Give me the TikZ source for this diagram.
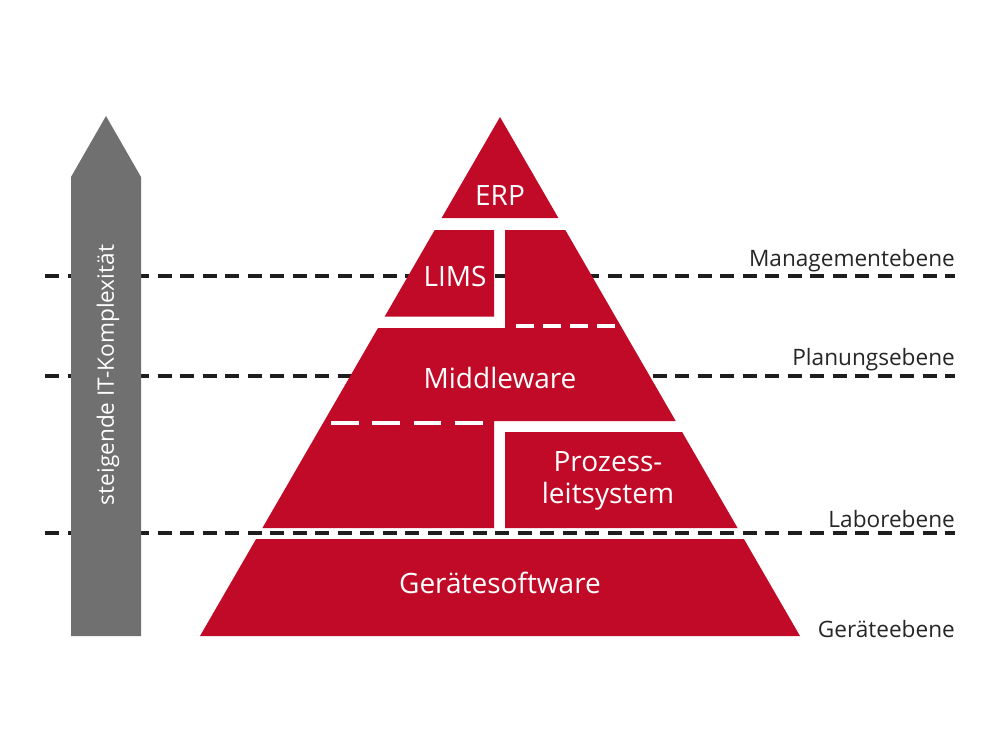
\documentclass[tikz,border=0pt]{standalone}
\usepackage{fontspec}
\setmainfont{Open Sans}
\definecolor{pyrred}{RGB}{192,10,39}
\definecolor{arrowgray}{RGB}{112,112,112}
\definecolor{linegray}{RGB}{30,30,30}
\tikzset{
  levelline/.style={draw=linegray,line width=3.3pt,dash pattern=on 14pt off 8.5pt},
  block/.style={fill=pyrred,draw=none},
  gapline/.style={draw=white,line width=4pt},
  blocklabel/.style={font=\fontsize{28}{32}\selectfont,text=white,align=center,inner sep=0pt},
  levellabel/.style={font=\fontsize{22.6}{26}\selectfont,text=black!85,anchor=base east,inner sep=0pt},
}

\begin{document}
\begin{tikzpicture}[x=1pt,y=-1pt]
\useasboundingbox[fill=white] (0,0) rectangle (1000,750);

% level lines
\draw[levelline] (45,276) -- (955,276);
\draw[levelline] (45,376) -- (955,376);
\draw[levelline] (45,533) -- (955,533);
\node[levellabel] (mgmt) at (955,266) {Managementebene};
\node[levellabel] (plan) at (955,365) {Planungsebene};
\node[levellabel] (labor) at (955,527) {Laborebene};
\node[levellabel] (geraet) at (955,637) {Geräteebene};

% arrow
\fill[arrowgray] (71,636) -- (71,177) -- (106,116) -- (141,177) -- (141,636) -- cycle;
\node[font=\fontsize{22.6}{26}\selectfont,text=white,rotate=90,anchor=center] (itk) at (108,375) {steigende IT-Komplexität};

% pyramid
\fill[block] (500,117) -- (558.4,218) -- (441.6,218) -- cycle;
\fill[block] (434.7,230) -- (494,230) -- (494,316.7) -- (384.6,316.7) -- cycle;
\fill[block] (505,230) -- (565.3,230) -- (675.7,421) -- (494,421) -- (494,528)
  -- (262.4,528) -- (378,328) -- (505,328) -- cycle;
\fill[block] (505,432) -- (682.1,432) -- (737.6,528) -- (505,528) -- cycle;
\fill[block] (256.1,539) -- (743.9,539) -- (800,636) -- (200,636) -- cycle;
\draw[gapline,dash pattern=on 18pt off 9pt] (516,326) -- (615,326);
\draw[gapline,dash pattern=on 27.6pt off 13.8pt] (331,423) -- (483,423);

\node[blocklabel] (erp) at (500,196) {ERP};
\node[blocklabel] (lims) at (455,276) {LIMS};
\node[blocklabel] (mw) at (500,378) {Middleware};
\node[blocklabel] (pls) at (608,481) {Prozess-\\leitsystem};
\node[blocklabel] (gs) at (500,583) {Gerätesoftware};

\end{tikzpicture}
\end{document}
